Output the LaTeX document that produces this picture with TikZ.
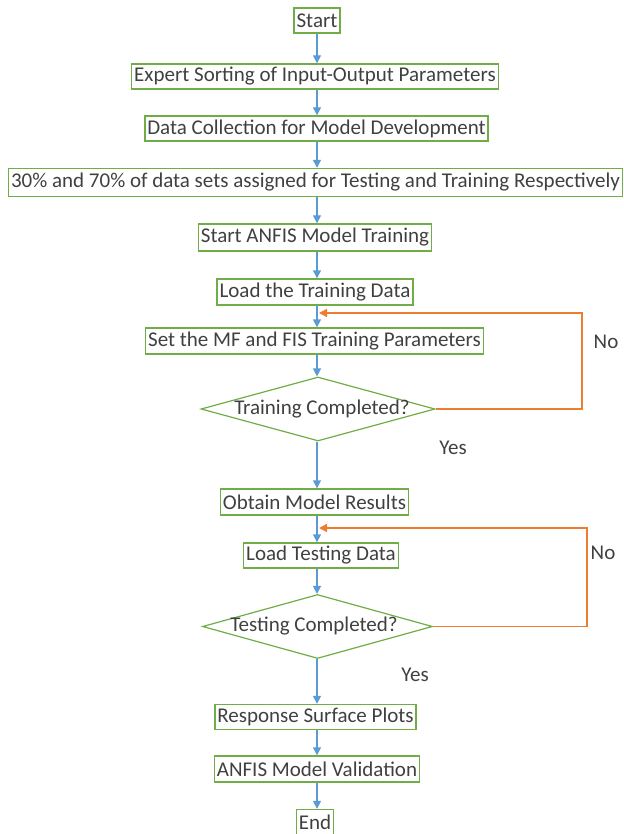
\documentclass[tikz,border=0pt]{standalone}
\usepackage{fontspec}
\setmainfont{Carlito}
\usetikzlibrary{shapes.geometric,arrows.meta}
\definecolor{boxgreen}{RGB}{112,173,71}
\definecolor{flowblue}{RGB}{91,155,213}
\definecolor{loopor}{RGB}{237,125,49}
\definecolor{txt}{RGB}{64,64,64}
\begin{document}
\begin{tikzpicture}[x=1pt,y=-1pt,
  font=\fontsize{21}{24}\selectfont, text=txt,
  procbox/.style={draw=boxgreen, line width=1.4pt, rectangle, inner xsep=2.5pt, inner ysep=0pt, minimum height=25pt},
  decide/.style={draw=boxgreen, line width=1.2pt, diamond, inner sep=0pt, minimum width=#1, minimum height=64pt},
  flow/.style={draw=flowblue, line width=1.4pt, -{Triangle[length=8pt,width=8pt]}},
  back/.style={draw=loopor, line width=1.4pt, -{Triangle[length=8pt,width=8pt]}},
  lbl/.style={inner sep=0pt}]
\useasboundingbox (0,0) rectangle (623,834);
\coordinate (spine) at (317,0);

\node[procbox] (start) at (317,20.5) {Start};
\node[procbox] (expert) at (315,76.5) {Expert Sorting of Input-Output Parameters};
\node[procbox] (collect) at (316.5,128.5) {Data Collection for Model Development};
\node[procbox, minimum height=28pt] (split) at (315.5,182.5) {30\% and 70\% of data sets assigned for Testing and Training Respectively};
\node[procbox, minimum height=27pt] (anfis) at (315,237.5) {Start ANFIS Model Training};
\node[procbox, minimum height=26pt] (loadtr) at (315,292) {Load the Training Data};
\node[procbox, minimum height=26pt] (setmf) at (314.5,341) {Set the MF and FIS Training Parameters};
\node[decide=234pt] (trdone) at (318,409) {};
\node[lbl] (trtext) at (322,409) {Training Completed?};
\node[procbox, minimum height=26pt] (obtain) at (314.5,502) {Obtain Model Results};
\node[procbox] (loadte) at (321,555.5) {Load Testing Data};
\node[decide=230pt] (tedone) at (317.5,626.5) {};
\node[lbl] (tetext) at (314,626.5) {Testing Completed?};
\node[procbox] (surface) at (315.5,717) {Response Surface Plots};
\node[procbox, minimum height=26pt] (valid) at (317,769) {ANFIS Model Validation};
\node[procbox] (finish) at (315,822) {End};

% main flow
\draw[flow] (start.south -| spine) -- (expert.north -| spine);
\draw[flow] (expert.south -| spine) -- (collect.north -| spine);
\draw[flow] (collect.south -| spine) -- (split.north -| spine);
\draw[flow] (split.south -| spine) -- (anfis.north -| spine);
\draw[flow] (anfis.south -| spine) -- (loadtr.north -| spine);
\draw[flow] (loadtr.south -| spine) -- (setmf.north -| spine);
\draw[flow] (setmf.south -| spine) -- (trdone.north -| spine);
\draw[flow] (trdone.south -| spine) -- (obtain.north -| spine);
\draw[flow] (obtain.south -| spine) -- (loadte.north -| spine);
\draw[flow] (loadte.south -| spine) -- (tedone.north -| spine);
\draw[flow] (tedone.south -| spine) -- (surface.north -| spine);
\draw[flow] (surface.south -| spine) -- (valid.north -| spine);
\draw[flow] (valid.south -| spine) -- (finish.north -| spine);

% feedback loops
\coordinate (trjoin) at (319,313);
\coordinate (tejoin) at (319,528);
\draw[back] (trdone.east) -- (582,409) -- (582,313) -- (trjoin);
\draw[back] (tedone.east) -- (587,626.5) -- (587,528) -- (tejoin);

% branch labels
\node[lbl] (no1) at (606,342) {No};
\node[lbl] (yes1) at (453,448) {Yes};
\node[lbl] (no2) at (603,553) {No};
\node[lbl] (yes2) at (415,675) {Yes};
\end{tikzpicture}
\end{document}
